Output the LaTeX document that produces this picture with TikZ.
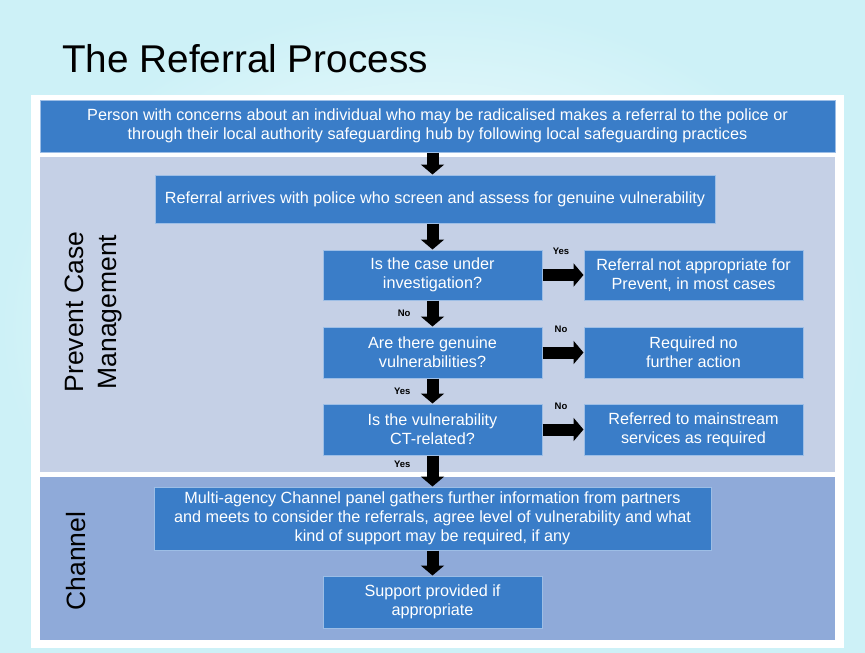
\documentclass[tikz,border=0pt]{standalone}
\usepackage{fontspec}
\setmainfont{Liberation Sans}
\usetikzlibrary{arrows.meta,calc}
\definecolor{boxblue}{HTML}{3A7DC8}
\definecolor{boxedge}{HTML}{9DBEE6}
\definecolor{prevbg}{HTML}{C5D0E6}
\definecolor{chanbg}{HTML}{8FAAD9}
\definecolor{skyc}{HTML}{CDF1F7}
\tikzset{
  bluebox/.style={draw=boxedge, line width=1pt, fill=boxblue, text=white, align=center,
    inner sep=0pt, font=\fontsize{16.2}{19}\selectfont},
  panel/.style={fill=#1, inner sep=0pt},
  blk/.style={line width=12pt, draw=black, -{Triangle[width=23pt,length=10pt]}},
  lbl/.style={font=\fontsize{9.5}{11}\selectfont\bfseries, inner sep=0pt, text=black},
  side/.style={rotate=90, align=center, font=\fontsize{26.5}{33}\selectfont, text=black}
}
\begin{document}
\begin{tikzpicture}[x=1pt,y=-1pt]
\useasboundingbox (0,0) rectangle (865,653);
\shade[inner color=white, outer color=skyc] (0,0) rectangle (865,653);
\fill[white] (31,95) rectangle (844,648);
\node[anchor=base west, inner sep=0pt, font=\fontsize{38.7}{44}\selectfont] (title) at (62,72) {The Referral Process};
\node[panel=prevbg, minimum width=795pt, minimum height=315pt] (prev) at (437.5,314.5) {};
\node[panel=chanbg, minimum width=795pt, minimum height=163pt] (chan) at (437.5,558.5) {};
\node[side] (prevlbl) at (93,312) {Prevent Case\\Management};
\node[side] (chanlbl) at (76,561) {Channel};
\node[bluebox, minimum width=795pt, minimum height=52pt] (top) at (437.5,126) {Person with concerns about an individual who may be radicalised makes a referral to the police or\\through their local authority safeguarding hub by following local safeguarding practices};
\node[bluebox, minimum width=560pt, minimum height=48pt] (ref) at (435,199) {Referral arrives with police who screen and assess for genuine vulnerability};
\node[bluebox, minimum width=219pt, minimum height=50pt] (q1) at (432.5,275) {Is the case under\\investigation?};
\node[bluebox, minimum width=219pt, minimum height=50pt] (r1) at (693.5,275) {Referral not appropriate for\\Prevent, in most cases};
\node[bluebox, minimum width=219pt, minimum height=51pt] (q2) at (432.5,352.5) {Are there genuine\\vulnerabilities?};
\node[bluebox, minimum width=219pt, minimum height=51pt] (r2) at (693.5,352.5) {Required no\\further action};
\node[bluebox, minimum width=219pt, minimum height=51pt] (q3) at (432.5,429.5) {Is the vulnerability\\CT-related?};
\node[bluebox, minimum width=219pt, minimum height=51pt] (r3) at (693.5,429.5) {Referred to mainstream\\services as required};
\node[bluebox, minimum width=557pt, minimum height=63pt] (multi) at (432.5,518.5) {Multi-agency Channel panel gathers further information from partners\\and meets to consider the referrals, agree level of vulnerability and what\\kind of support may be required, if any};
\node[bluebox, minimum width=219pt, minimum height=52pt] (sup) at (432.5,602) {Support provided if\\appropriate};
% connectors
\draw[blk] (top.south -| q1) -- (q1 |- ref.north);
\draw[blk] (q1 |- ref.south) -- (q1.north);
\draw[blk] (q1.south) -- node[lbl, left=16pt] {No} (q2.north);
\draw[blk] (q2.south) -- node[lbl, left=16pt] {Yes} (q3.north);
\draw[blk] (q3.south) -- node[lbl, pos=0.28, left=16pt] {Yes} (multi.north);
\draw[blk] (multi.south) -- (sup.north);
\draw[blk] (q1.east) -- node[lbl, above=14pt, xshift=-2pt] {Yes} (r1.west);
\draw[blk] (q2.east) -- node[lbl, above=14pt, xshift=-2pt] {No} (r2.west);
\draw[blk] (q3.east) -- node[lbl, above=14pt, xshift=-2pt] {No} (r3.west);
\end{tikzpicture}
\end{document}
